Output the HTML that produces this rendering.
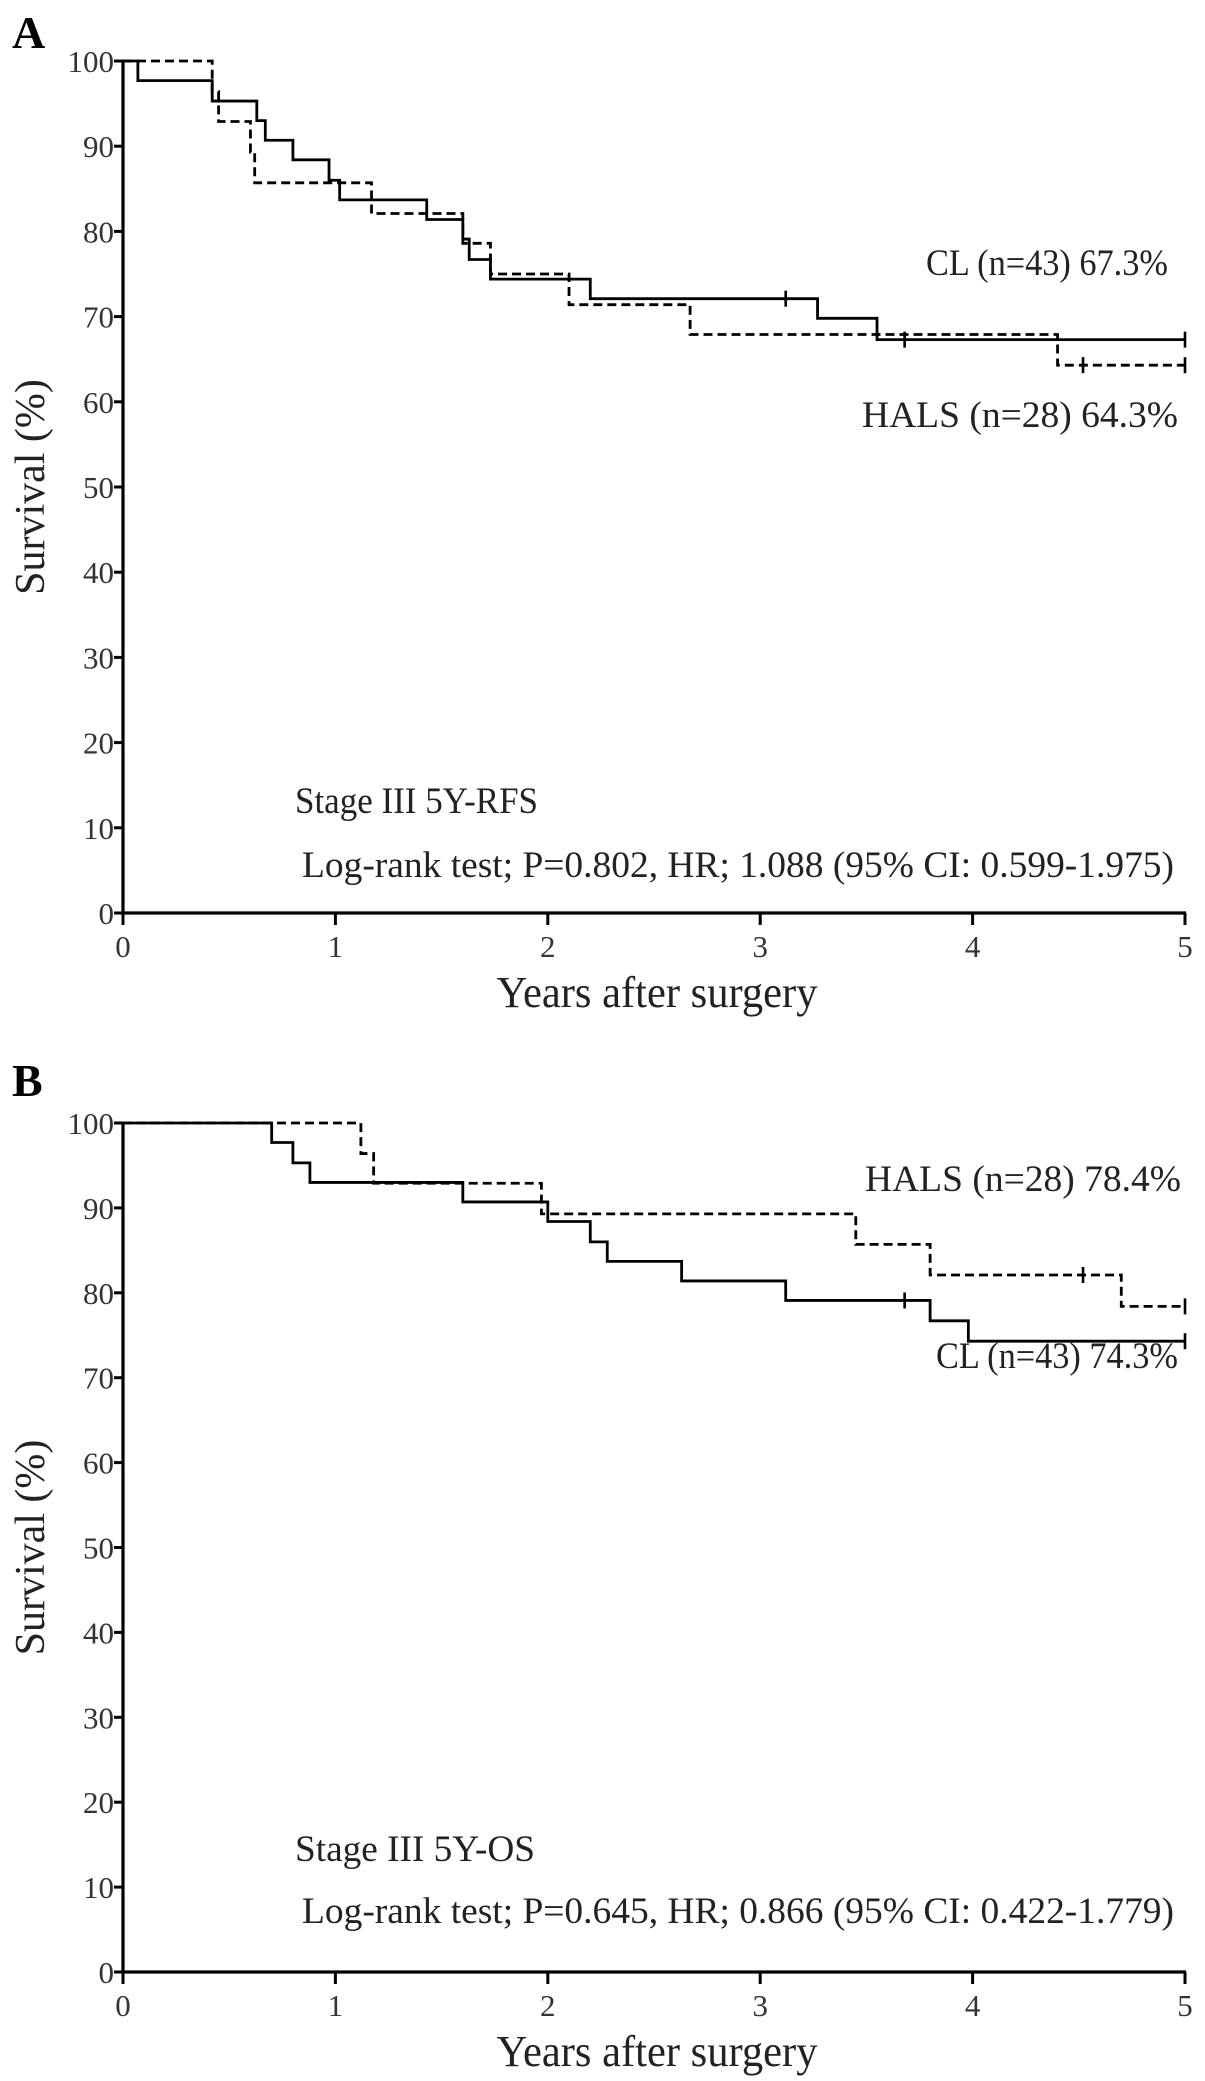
<!DOCTYPE html>
<html><head><meta charset="utf-8">
<style>
html,body{margin:0;padding:0;background:#fff;}
svg{display:block;font-family:"Liberation Serif",serif;}
</style></head>
<body>
<svg id="fig" width="1205" height="2081" viewBox="0 0 1205 2081" xmlns="http://www.w3.org/2000/svg"></svg>
<script>
// ---- data ----
const xTicks = [0,1,2,3,4,5];
const yTicks = [0,10,20,30,40,50,60,70,80,90,100];
// Panel A (RFS)
const aCLTimes = [0.07,0.42,0.63,0.67,0.80,0.97,1.02,1.43,1.60,1.63,1.73,2.20,3.27,3.55];
const aCLVals  = [97.7,95.3,93.0,90.7,88.4,86.0,83.7,81.4,79.1,76.7,74.4,72.1,69.8,67.3];
const aCLCens  = [3.12,3.68,5.0];
const aHALSTimes = [0.42,0.45,0.60,0.62,1.17,1.60,1.73,2.10,2.67,4.40];
const aHALSVals  = [96.4,92.9,89.3,85.7,82.1,78.6,75.0,71.4,67.9,64.3];
const aHALSCens  = [4.52,5.0];
// Panel B (OS)
const bCLTimes = [0.70,0.80,0.88,1.60,2.00,2.20,2.28,2.63,3.12,3.80,3.98];
const bCLVals  = [97.7,95.3,93.0,90.7,88.4,86.0,83.7,81.4,79.1,76.7,74.3];
const bCLCens  = [3.68,5.0];
const bHALSTimes = [1.12,1.18,1.97,3.45,3.80,4.70];
const bHALSVals  = [96.4,92.9,89.3,85.7,82.1,78.4];
const bHALSCens  = [4.52,5.0];

const NS = "http://www.w3.org/2000/svg";
const svg = document.getElementById('fig');
function mk(tag, attrs, parent){
  const e = document.createElementNS(NS, tag);
  for (const k in attrs) e.setAttribute(k, attrs[k]);
  (parent||svg).appendChild(e);
  return e;
}
function txt(s, attrs, parent){ const t = mk('text', attrs, parent); t.textContent = s; return t; }

function panel(p){
  const g = mk('g', {});
  
  
  const x0 = 123, x1 = 1185, yTop = p.yTop, yBot = p.yBot;
  const X = t => x0 + (x1 - x0) * t / 5;
  const Y = v => yBot - (yBot - yTop) * v / 100;

  const lbl = txt(p.letter, {x:12, y:p.letterY, 'font-size':46, 'font-weight':'bold'}, g);
  
  

  const ya = mk('line', {x1:x0, y1:yTop-1, x2:x0, y2:yBot+1, stroke:'#000', 'stroke-width':3.2}, g);
  
  
  const xa = mk('line', {x1:x0-1, y1:yBot, x2:x1+1, y2:yBot, stroke:'#000', 'stroke-width':3.2}, g);
  
  

  yTicks.forEach(v => {
    mk('line', {x1:x0-9, y1:Y(v), x2:x0, y2:Y(v), stroke:'#000', 'stroke-width':3}, g);
    const t = txt(String(v), {x:x0-9, y:Y(v)+11, 'font-size':31, 'text-anchor':'end', fill:'#333'}, g);
    
    
  });
  xTicks.forEach(v => {
    mk('line', {x1:X(v), y1:yBot, x2:X(v), y2:yBot+12, stroke:'#000', 'stroke-width':3}, g);
    const t = txt(String(v), {x:X(v), y:yBot+44, 'font-size':31, 'text-anchor':'middle', fill:'#333'}, g);
    
    
  });

  const yt = txt('Survival (%)', {x:0, y:0, 'font-size':42, 'text-anchor':'middle', fill:'#222',
     transform:`translate(44,${(yTop+yBot)/2 - 0}) rotate(-90)`}, g);
  
  
  const xt = txt('Years after surgery', {x:657, y:yBot+94, 'font-size':44, 'text-anchor':'middle', fill:'#222',
     textLength:321, lengthAdjust:'spacingAndGlyphs'}, g);
  
  

  function curve(times, vals, cens, dashed, name){
    let d = `M${X(0)},${Y(100)}`;
    times.forEach((t,i) => { d += ` H${X(t)} V${Y(vals[i])}`; });
    d += ` H${X(5)}`;
    const path = mk('path', {d:d, fill:'none', stroke:'#000', 'stroke-width':2.8,
      'stroke-dasharray': dashed ? '9,5' : 'none'}, g);
    
    
    cens.forEach(c => {
      let v = 100;
      times.forEach((t,i) => { if (t <= c) v = vals[i]; });
      const m = mk('line', {x1:X(c), y1:Y(v)-8, x2:X(c), y2:Y(v)+8, stroke:'#000', 'stroke-width':2.6}, g);
      
      
    });
  }
  curve(p.hTimes, p.hVals, p.hCens, true, 'hals-curve');
  curve(p.cTimes, p.cVals, p.cCens, false, 'cl-curve');

  p.texts.forEach(o => {
    const t = txt(o.s, {x:o.x, y:o.y, 'font-size':37, 'text-anchor':'start', fill:'#222',
      textLength:o.w, lengthAdjust:'spacingAndGlyphs'}, g);
    
    
  });
}

panel({name:'panel-a-rfs', letter:'A', letterY:48, yTop:61, yBot:913,
  cTimes:aCLTimes, cVals:aCLVals, cCens:aCLCens,
  hTimes:aHALSTimes, hVals:aHALSVals, hCens:aHALSCens,
  texts:[
    {s:'CL (n=43) 67.3%', x:926, y:275, w:242, n:'cl-legend-label'},
    {s:'HALS (n=28) 64.3%', x:862, y:427, w:316, n:'hals-legend-label'},
    {s:'Stage III 5Y-RFS', x:295, y:813, w:243, n:'subtitle'},
    {s:'Log-rank test; P=0.802, HR; 1.088 (95% CI: 0.599-1.975)', x:302, y:877, w:872, n:'stats-annotation'}
  ]});
panel({name:'panel-b-os', letter:'B', letterY:1096, yTop:1123, yBot:1972,
  cTimes:bCLTimes, cVals:bCLVals, cCens:bCLCens,
  hTimes:bHALSTimes, hVals:bHALSVals, hCens:bHALSCens,
  texts:[
    {s:'HALS (n=28) 78.4%', x:865, y:1191, w:316, n:'hals-legend-label'},
    {s:'CL (n=43) 74.3%', x:936, y:1368, w:242, n:'cl-legend-label'},
    {s:'Stage III 5Y-OS', x:295, y:1861, w:240, n:'subtitle'},
    {s:'Log-rank test; P=0.645, HR; 0.866 (95% CI: 0.422-1.779)', x:302, y:1923, w:872, n:'stats-annotation'}
  ]});
</script>
</body></html>
